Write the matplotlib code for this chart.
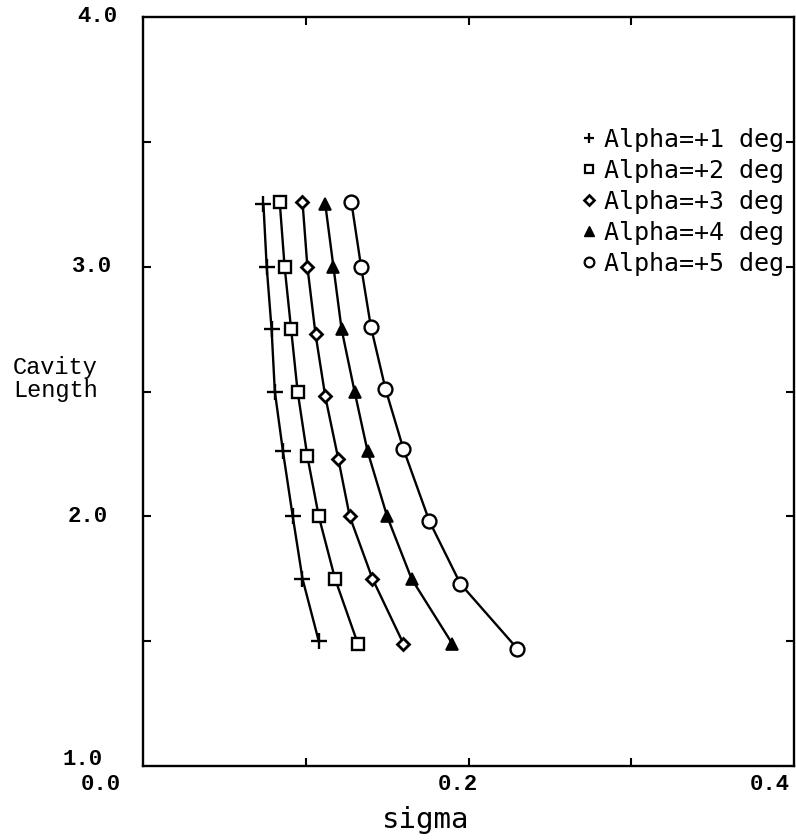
import matplotlib
matplotlib.use("Agg")
import matplotlib.pyplot as plt
from matplotlib.lines import Line2D

# values
len_a1 = [3.25, 3.0, 2.75, 2.5, 2.26, 2.0, 1.75, 1.5]
sig_a1 = [0.074, 0.076, 0.079, 0.081, 0.086, 0.092, 0.098, 0.108]

len_a2 = [3.26, 3.0, 2.75, 2.5, 2.24, 2.0, 1.75, 1.49]
sig_a2 = [0.084, 0.087, 0.091, 0.095, 0.101, 0.108, 0.118, 0.132]

len_a3 = [3.26, 3.0, 2.73, 2.48, 2.23, 2.0, 1.75, 1.49]
sig_a3 = [0.098, 0.101, 0.106, 0.112, 0.120, 0.127, 0.141, 0.160]

len_a4 = [3.25, 3.0, 2.75, 2.5, 2.26, 2.0, 1.75, 1.49]
sig_a4 = [0.112, 0.117, 0.122, 0.130, 0.138, 0.150, 0.165, 0.190]

len_a5 = [3.26, 3.0, 2.76, 2.51, 2.27, 1.98, 1.73, 1.47]
sig_a5 = [0.128, 0.134, 0.140, 0.149, 0.160, 0.176, 0.195, 0.230]

labels = ["Alpha=+1 deg", "Alpha=+2 deg", "Alpha=+3 deg", "Alpha=+4 deg", "Alpha=+5 deg"]

fig = plt.figure(figsize=(7.96, 8.4), dpi=100)
ax = fig.add_axes([143/796, 1 - 766/840, (794 - 143)/796, (766 - 17)/840])

series = [(sig_a1, len_a1), (sig_a2, len_a2), (sig_a3, len_a3), (sig_a4, len_a4), (sig_a5, len_a5)]
styles = [
    dict(marker='+', ms=11, mew=1.7, mfc='k'),
    dict(marker='s', ms=9, mew=1.7, mfc='white'),
    dict(marker='D', ms=6.5, mew=2.0, mfc='white'),
    dict(marker='^', ms=8.5, mew=1.2, mfc='k'),
    dict(marker='o', ms=10, mew=1.7, mfc='white'),
]
for (s, l), st in zip(series, styles):
    ax.plot(s, l, color='k', lw=1.7, mec='k', **st)

ax.set_xlim(0, 0.4)
ax.set_ylim(1.0, 4.0)
ax.set_xticks([0.1, 0.2, 0.3])
ax.set_yticks([1.5, 2.0, 2.5, 3.0, 3.5])
ax.tick_params(direction='in', length=6, width=1.5, top=True, right=True,
               labelbottom=False, labelleft=False)
for sp in ax.spines.values():
    sp.set_linewidth(1.7)

# tick labels placed like the original
num = dict(family='Liberation Mono', fontweight='bold', fontsize=16, color='k', clip_on=False)
ax.text(-0.016, 4.0, "4.0", ha='right', va='center', **num)
ax.text(-0.019, 3.0, "3.0", ha='right', va='center', **num)
ax.text(-0.0215, 2.0, "2.0", ha='right', va='center', **num)
ax.text(-0.025, 1.005, "1.0", ha='right', va='baseline', **num)
ax.text(-0.026, 0.905, "0.0", ha='center', va='baseline', **num)
ax.text(0.1935, 0.905, "0.2", ha='center', va='baseline', **num)
ax.text(0.385, 0.905, "0.4", ha='center', va='baseline', **num)

ax.text(0.174, 0.784, "sigma", ha='center', va='center', family='DejaVu Sans Mono',
        fontsize=21, clip_on=False)
ax.text(-0.080, 2.55, "Cavity\nLength", ha='left', va='center', family='Liberation Mono',
        fontsize=17, linespacing=1.05, clip_on=False)

handles = [
    Line2D([], [], ls='none', marker='+', ms=7, mew=1.6, color='k'),
    Line2D([], [], ls='none', marker='s', ms=6, mew=1.6, mec='k', mfc='white'),
    Line2D([], [], ls='none', marker='D', ms=5, mew=1.9, mec='k', mfc='white'),
    Line2D([], [], ls='none', marker='^', ms=7, mec='k', mfc='k'),
    Line2D([], [], ls='none', marker='o', ms=7, mew=1.6, mec='k', mfc='white'),
]
ax.legend(handles, labels, loc='upper left', bbox_to_anchor=(0.6743, 0.852),
          frameon=False, handlelength=0.6, handletextpad=0.3, labelspacing=0.28,
          borderpad=0, borderaxespad=0, prop=dict(family='DejaVu Sans Mono', size=18))

fig.savefig("out.png", dpi=100, facecolor='white')
